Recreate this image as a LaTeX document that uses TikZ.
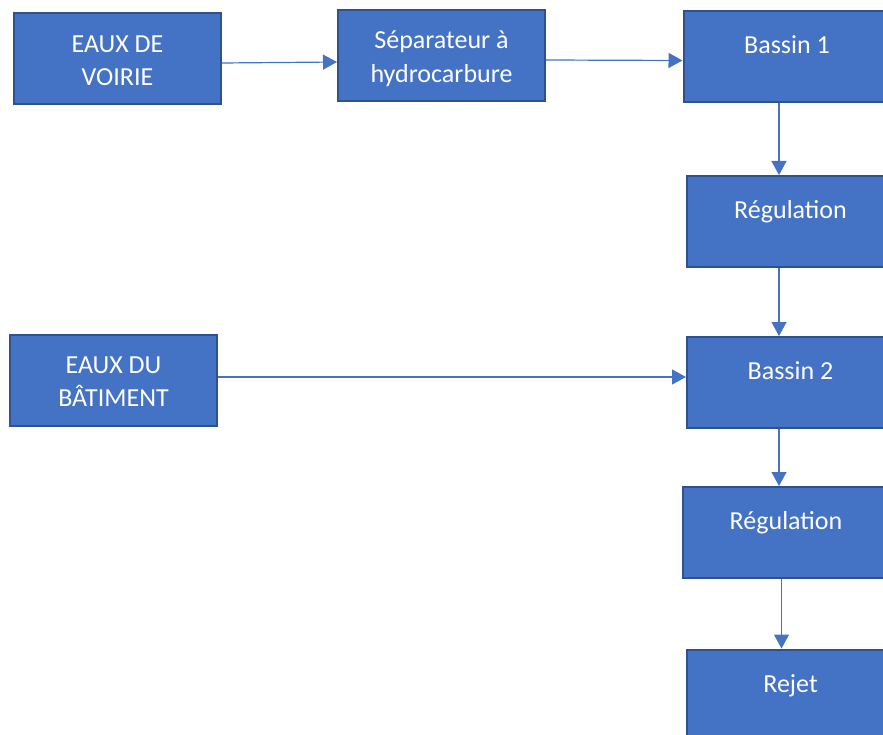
\documentclass[tikz,border=0pt]{standalone}
\usepackage{fontspec}
\setmainfont{Carlito}
\usetikzlibrary{arrows.meta}

\definecolor{fillblue}{HTML}{4472C4}
\definecolor{edgeblue}{HTML}{2F528F}
\newcommand{\lstrut}{\rule[-6.7pt]{0pt}{33.5pt}}

\tikzset{
	box/.style={draw=edgeblue, line width=2pt, fill=fillblue, text=white,
		minimum width=207pt, minimum height=91pt, inner sep=0pt, align=center,
		font=\fontsize{26}{33.5}\selectfont},
	oneline/.style={text height=18pt, text depth=23.4pt},
	flow/.style={draw=fillblue, line width=1.2pt, -{Triangle[length=14pt,width=15pt]}}
}

\begin{document}
\begin{tikzpicture}[x=1pt,y=-1pt]
		\path[use as bounding box, clip] (0,0) rectangle (883,735);
		
		%Sources
		\node[box] (voirie) at (117.5,59) {\lstrut EAUX DE\\\lstrut VOIRIE};
		\node[box] (sep) at (441.5,55.5) {\lstrut S\'eparateur \`a\\\lstrut hydrocarbure};
		\node[box] (bat) at (113.5,380) {\lstrut EAUX DU\\\lstrut B\^ATIMENT};
		
		%Right column
		\node[box, oneline] (b1) at (787,56.5) {Bassin 1};
		\node[box, oneline] (reg1) at (790.5,221.5) {R\'egulation};
		\node[box, oneline] (b2) at (790.5,382.5) {Bassin 2};
		\node[box, oneline] (reg2) at (786,532.5) {R\'egulation};
		\node[box, oneline] (rejet) at (790.5,695) {Rejet};
		
		%Flows
		\draw[flow] ([yshift=-4pt]voirie.east) -- ([yshift=-6.5pt]sep.west);
		\draw[flow] ([yshift=-4.5pt]sep.east) -- ([yshift=-4pt]b1.west);
		\draw[flow] ([yshift=3pt]bat.east) -- ([yshift=5.5pt]b2.west);
		
		\draw[flow] ([xshift=-8pt]b1.south) -- ([xshift=-11.5pt]reg1.north);
		\draw[flow] ([xshift=-11.5pt]reg1.south) -- ([xshift=-11.5pt]b2.north);
		\draw[flow] ([xshift=-11.5pt]b2.south) -- ([xshift=-7pt]reg2.north);
		\draw[flow] ([xshift=-4.5pt]reg2.south) -- ([xshift=-9pt]rejet.north);
		
\end{tikzpicture}
\end{document}
